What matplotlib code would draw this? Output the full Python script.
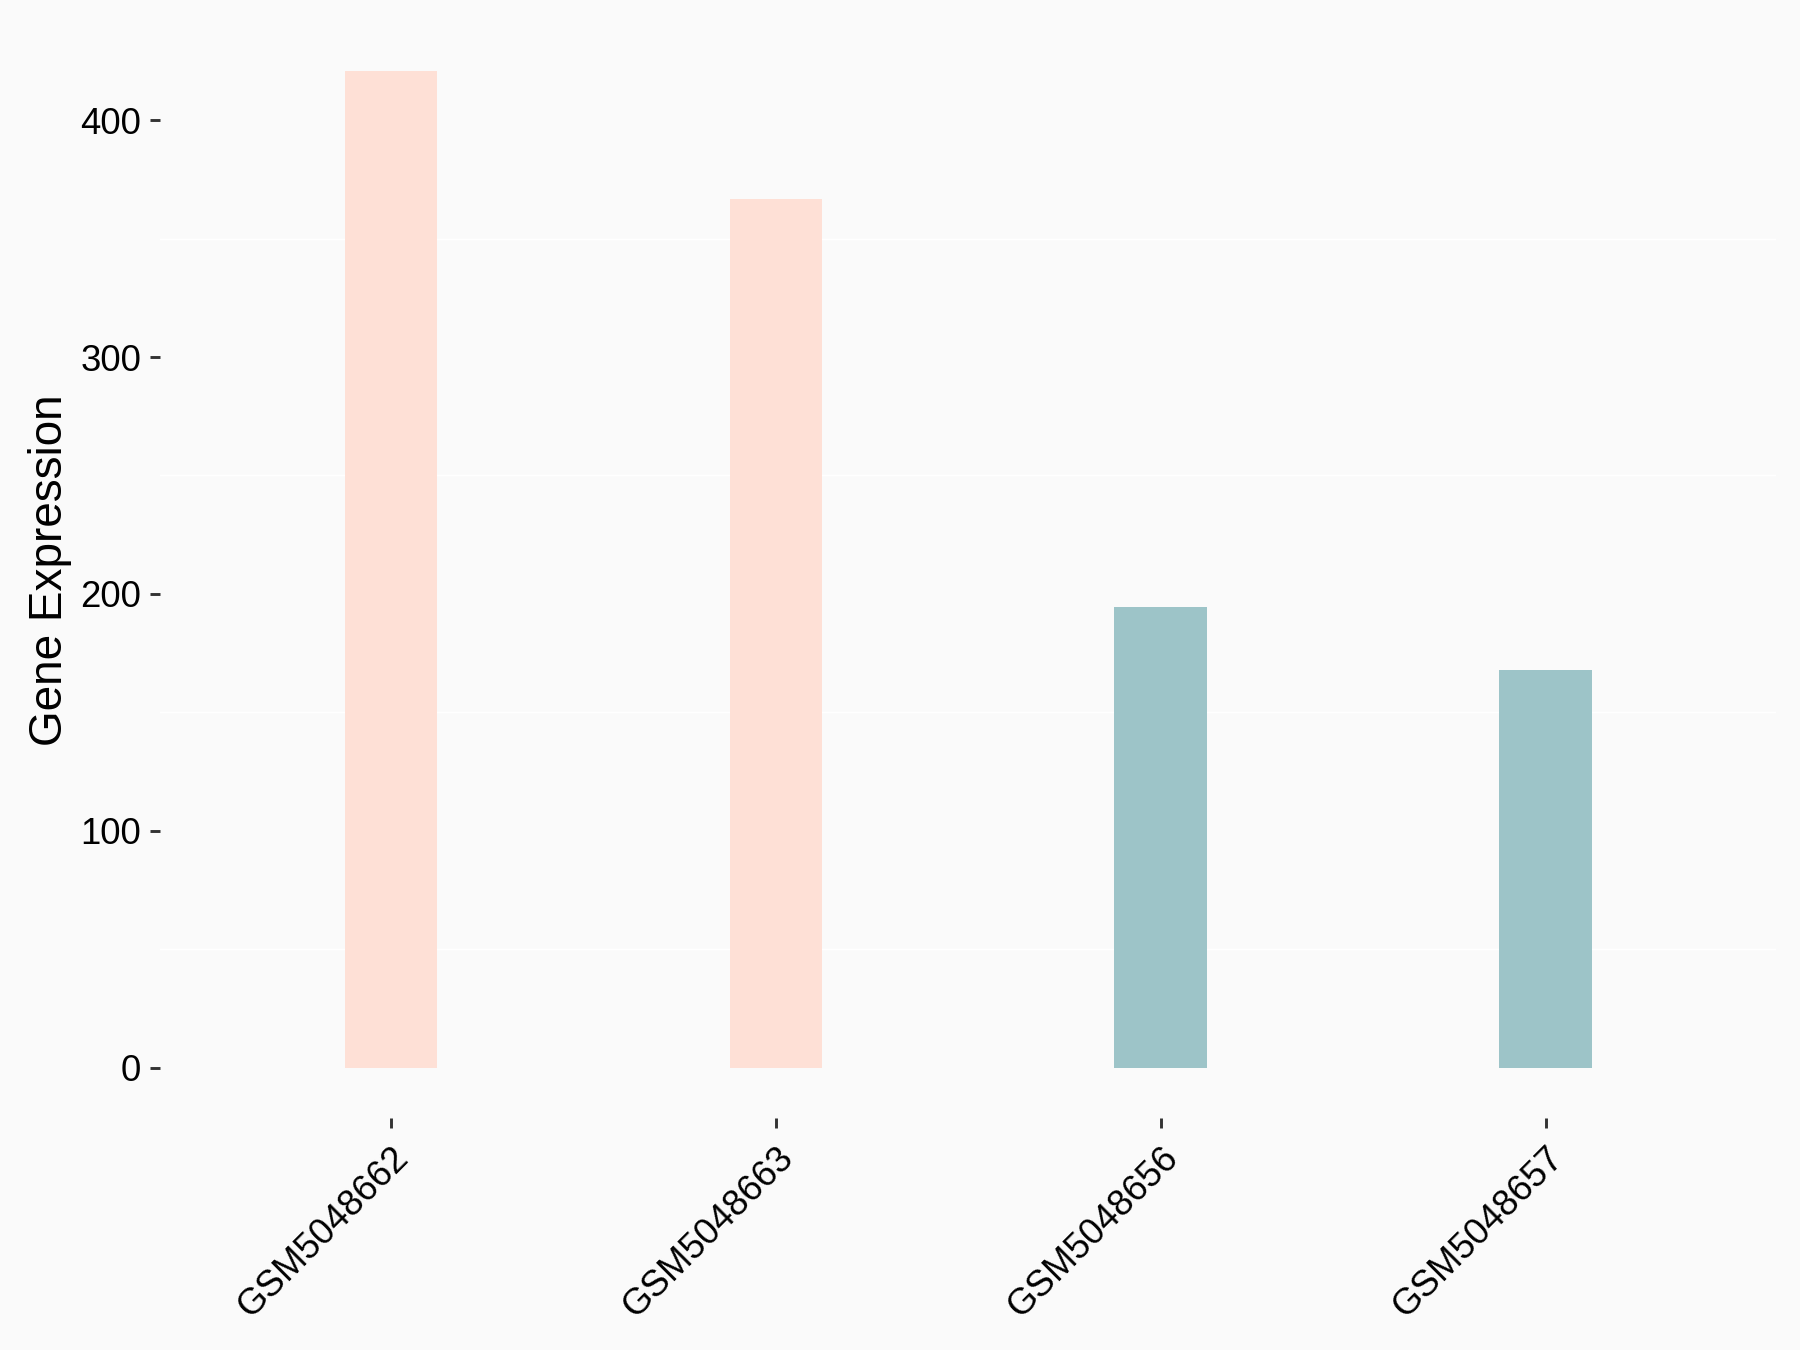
import matplotlib.pyplot as plt
import numpy as np

# sample ids and expression values
samples = ['GSM5048662', 'GSM5048663', 'GSM5048656', 'GSM5048657']
expression = [420.5, 366.5, 194.5, 168.0]
groups = ['A', 'A', 'B', 'B']
group_colors = {'A': '#FEE0D6', 'B': '#9DC4C8'}
y_ticks = [0, 100, 200, 300, 400]
minor_ticks = [50, 150, 250, 350]

plt.rcParams['font.family'] = ['Liberation Sans', 'DejaVu Sans']

bg = '#FAFAFA'
fig = plt.figure(figsize=(12, 9), dpi=150, facecolor=bg)
ax = fig.add_axes([0.0889, 0.172, 0.898, 0.812], facecolor=bg)

x = np.arange(len(samples))
ax.bar(x, expression, width=0.24, color=[group_colors[g] for g in groups], zorder=2)

# ggplot-ish limits: 0.6 padding on discrete axis, 5% on continuous
top = max(expression)
ax.set_xlim(-0.6, len(samples) - 0.4)
ax.set_ylim(-0.05 * top, top * 1.05)

ax.set_yticks(y_ticks)
ax.set_yticks(minor_ticks, minor=True)
ax.grid(which='minor', axis='y', color='white', linewidth=0.7, zorder=0)
ax.set_xticks(x)
ax.set_xticklabels(samples, rotation=45, ha='right', va='top', rotation_mode='anchor')

ax.tick_params(axis='both', which='major', length=5, width=1.4, color='#333333',
               labelsize=17.5, labelcolor='black', pad=4)
ax.tick_params(axis='y', which='minor', length=0)
ax.tick_params(axis='x', which='major', pad=6)

for s in ax.spines.values():
    s.set_visible(False)

ax.set_ylabel('Gene Expression', fontsize=22, color='black', labelpad=4)

fig.savefig('out.png', dpi=150, facecolor=bg)
